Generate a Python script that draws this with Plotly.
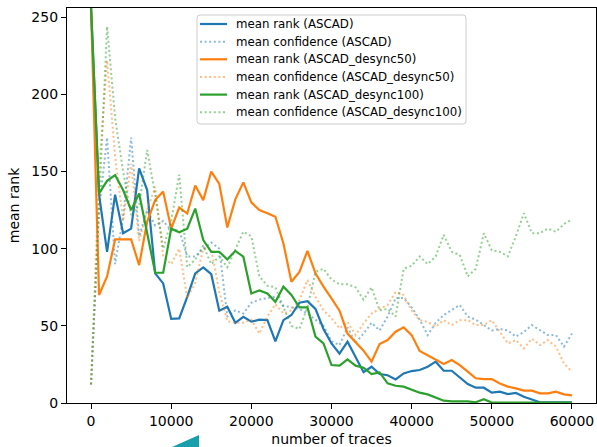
import plotly.graph_objects as go

traces_x = [i * 1000 for i in range(61)]

rank_ascad = [256, 135, 98, 135, 110, 113, 152, 138, 84, 77.5, 54.5, 54.8, 68.8, 84, 87.9, 83.5, 59.8, 62.4, 52, 55.9,
              52.7, 54, 53.7, 40, 53.7, 57, 65, 66, 61, 48, 38.6, 32, 39.7, 30, 20, 23.5, 18.8, 18, 15.3, 19.2,
              20.7, 21.4, 23.5, 26.8, 20.9, 20.9, 16.6, 12.3, 9.9, 9.9, 6.7, 7.3, 5.8, 6.5, 4.1, 2.4, 0.5, 0.5, 0.5, 0.5, 0.5]

conf_ascad = [12, 125, 172, 90, 120, 172, 108, 125, 115, 118, 112, 112, 95, 95, 100, 104, 100, 56, 60, 58,
              65, 67, 68, 69, 63, 62, 61, 58, 54, 50, 40, 37.5, 49, 39, 45, 52, 47, 56, 68, 68,
              62, 54, 44, 52, 57, 60, 63.5, 56, 54, 50.5, 47, 48, 47, 43, 46, 50.5, 47, 44, 44, 36.5, 45]

rank_d50 = [256, 70, 82, 106, 106, 106, 89.4, 117.4, 131.5, 137, 113, 126.7, 122.8, 141, 131.5, 150, 142, 113.7, 132, 143,
            130, 125, 123, 120.7, 103.4, 78.6, 85, 98.6, 84, 75.4, 67.8, 59.8, 45, 39.7, 33.9, 26.8, 38.2, 40.8, 46.2, 49,
            44, 33.7, 31, 27.8, 25.3, 27.8, 24.6, 20.3, 16, 15.5, 15.5, 12.7, 10.6, 9.5, 8, 8, 6.3, 6.3, 7.3, 5.6, 5]

conf_d50 = [12, 150, 222, 160, 118, 155, 105, 125, 140, 95, 90, 100, 68, 78, 100, 100, 72, 53, 52, 52,
            54, 45, 56, 64, 58, 60, 66.7, 79.7, 68.8, 60, 55, 48.4, 52.6, 44, 51.6, 58, 61, 63.5, 72, 70,
            60, 53.7, 52.6, 49.4, 53.7, 50.5, 53.7, 53.7, 50.5, 50.5, 53.7, 46, 38.6, 40.8, 35.4, 41.7, 37.5, 40.8, 36.5, 25.7, 20.3]

rank_d100 = [256, 135.8, 144, 147.7, 138, 125, 135.8, 110, 84.4, 84.4, 113, 110.6, 113, 126, 105.6, 98, 98, 93, 98.6, 94.8,
             71, 73, 71, 65.6, 75.4, 70, 62, 62, 43, 38.7, 24.6, 24.2, 28.3, 24.2, 22.9, 18.8, 19.8, 12.7, 11.2, 10.6,
             8.8, 6.7, 5.6, 3.5, 1.5, 1, 1, 1, 0.5, 2.4, 0.3, 0.3, 0.3, 0.3, 0.3, 0.3, 0.3, 0.3, 0.3, 0.3, 0.3]

conf_d100 = [12, 128, 244, 185, 150, 122, 128, 164, 135, 100, 118, 148, 88, 93, 102, 90, 95, 88, 100, 111,
             108, 82, 76, 75, 62, 50, 48, 62, 85, 87, 80, 77, 77, 75, 67, 75, 60, 61, 56, 87,
             89, 95, 90, 95, 109, 98, 96, 82, 87, 110, 99, 98, 95, 108, 123, 110, 110, 113, 111, 116, 119]

labels = ["mean rank (ASCAD)", "mean confidence (ASCAD)",
          "mean rank (ASCAD_desync50)", "mean confidence (ASCAD_desync50)",
          "mean rank (ASCAD_desync100)", "mean confidence (ASCAD_desync100)"]

x_ticks = [0, 10000, 20000, 30000, 40000, 50000, 60000]
y_ticks = [0, 50, 100, 150, 200, 250]

blue, orange, green = "#1f77b4", "#ff7f0e", "#2ca02c"
series = [(rank_ascad, blue, False), (conf_ascad, blue, True),
          (rank_d50, orange, False), (conf_d50, orange, True),
          (rank_d100, green, False), (conf_d100, green, True)]

DOT = "2px,2.6px"
W, H = 597, 447
ML, MR, MT, MB = 67, 1, 8, 44
PW, PH = W - ML - MR, H - MT - MB


def px(x):
    return (x - ML) / PW


def py(y):
    return (H - MB - y) / PH


fig = go.Figure()
for (vals, col, dotted), name in zip(series, labels):
    fig.add_trace(go.Scatter(
        x=traces_x, y=vals, mode="lines", name=name, showlegend=False,
        line=dict(color=col, width=2.0 if dotted else 2.2, dash=DOT if dotted else "solid"),
        opacity=0.5 if dotted else 1.0,
    ))

font = "DejaVu Sans"

# legend drawn as shapes + annotations (matplotlib-style compact spacing)
lx0, lx1, ly0, ly1, r = 197, 466, 15, 124, 3
rx, ry = r / PW, r / PH
X0, X1, Y0, Y1 = px(lx0), px(lx1), py(ly0), py(ly1)
box_path = (f"M {X0+rx} {Y0} L {X1-rx} {Y0} Q {X1} {Y0} {X1} {Y0-ry} "
            f"L {X1} {Y1+ry} Q {X1} {Y1} {X1-rx} {Y1} L {X0+rx} {Y1} "
            f"Q {X0} {Y1} {X0} {Y1+ry} L {X0} {Y0-ry} Q {X0} {Y0} {X0+rx} {Y0} Z")
shapes = [dict(type="path", xref="paper", yref="paper", path=box_path,
               fillcolor="rgba(255,255,255,0.8)", line=dict(color="#cccccc", width=1), layer="above")]
annotations = []
for k, ((vals, col, dotted), name) in enumerate(zip(series, labels)):
    yc = 24 + k * 17.65
    shapes.append(dict(type="line", xref="paper", yref="paper", x0=px(200), x1=px(227), y0=py(yc), y1=py(yc),
                       line=dict(color=col, width=2.0 if dotted else 2.2, dash=DOT if dotted else "solid"),
                       opacity=0.5 if dotted else 1.0, layer="above"))
    annotations.append(dict(text=name, xref="paper", yref="paper", x=px(234), y=py(yc), xanchor="left",
                            yanchor="middle", showarrow=False, font=dict(family=font, size=11.8, color="black")))

# decorative teal wedge at the bottom edge of the reference picture
shapes.append(dict(type="path", xref="paper", yref="paper",
                   path=f"M {px(172)} {py(447)} L {px(199)} {py(435)} L {px(199)} {py(447)} Z",
                   fillcolor="#17a0ac", line=dict(width=0), layer="above"))

fig.update_layout(
    width=W, height=H,
    margin=dict(l=ML, r=MR, t=MT, b=MB),
    paper_bgcolor="white", plot_bgcolor="white",
    font=dict(family=font, size=14, color="black"),
    showlegend=False,
    xaxis=dict(range=[-3000, 63000], tickvals=x_ticks, ticktext=[str(v) for v in x_ticks],
               showgrid=False, zeroline=False, showline=True, linecolor="black", linewidth=1.2,
               mirror=True, ticks="outside", ticklen=5, tickwidth=1.1, tickcolor="black",
               title=dict(text="number of traces", standoff=6, font=dict(size=14))),
    yaxis=dict(range=[0, 256], tickvals=y_ticks, ticktext=[str(v) for v in y_ticks],
               showgrid=False, zeroline=False, showline=True, linecolor="black", linewidth=1.2,
               mirror=True, ticks="outside", ticklen=5, tickwidth=1.1, tickcolor="black",
               title=dict(text="mean rank", standoff=8, font=dict(size=14))),
    shapes=shapes,
    annotations=annotations,
)

fig.write_html("out.html", config={"displayModeBar": False},
               post_script="document.body.style.margin='0';document.body.style.overflow='hidden';")
